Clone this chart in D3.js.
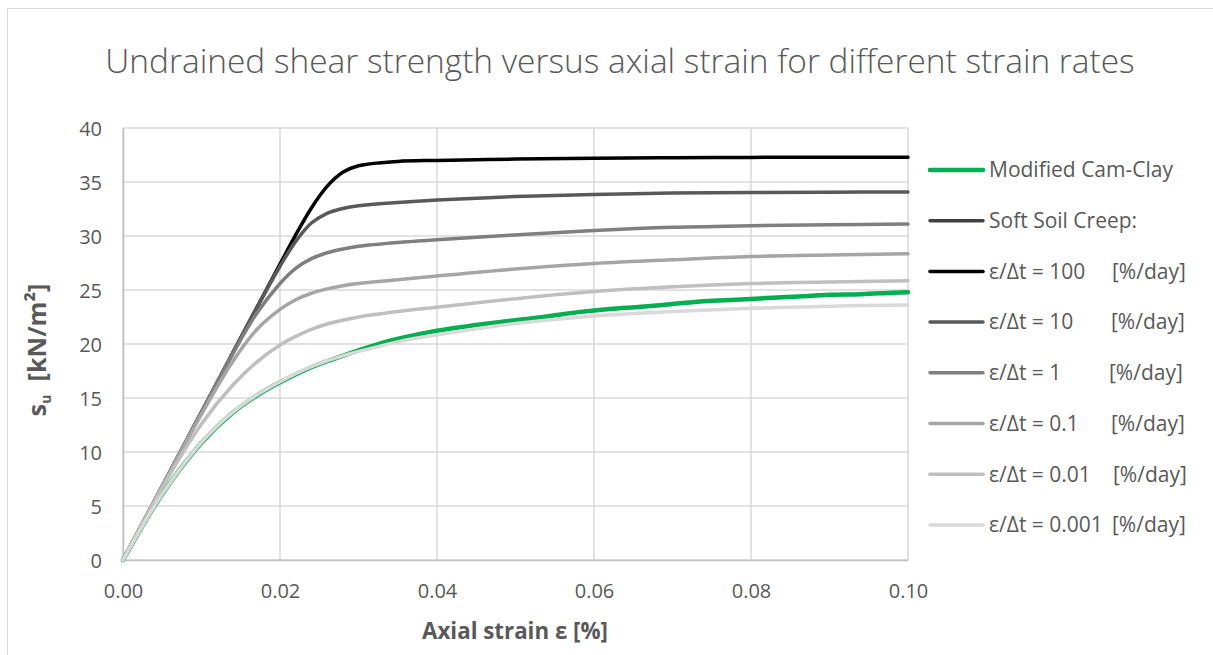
<!DOCTYPE html>
<html>
<head>
<meta charset="utf-8">
<script src="https://cdn.jsdelivr.net/npm/d3@7"></script>
<style>
  html, body { margin: 0; padding: 0; background: #ffffff; }
  svg { display: block; font-family: "Open Sans", "Noto Sans", sans-serif; }
</style>
</head>
<body>
<svg id="chart" width="1213" height="655"></svg>
<script>
// Axial strain samples [%] shared by the Soft Soil Creep runs
const strain = [0, 0.005, 0.01, 0.014, 0.017, 0.02, 0.022, 0.024, 0.026, 0.028, 0.03, 0.035, 0.04, 0.05, 0.06, 0.07, 0.08, 0.09, 0.1];

// Undrained shear strength s_u [kN/m²] for each strain rate
const rate100   = [0, 6.85, 13.7, 19.2, 23.3, 27.4, 30.1, 32.6, 34.6, 35.9, 36.5, 36.9, 37.0, 37.12, 37.2, 37.25, 37.28, 37.3, 37.3];
const rate10    = [0, 6.85, 13.7, 19.2, 23.3, 27.2, 29.5, 31.2, 32.1, 32.55, 32.8, 33.1, 33.33, 33.65, 33.85, 33.97, 34.03, 34.06, 34.07];
const rate1     = [0, 6.85, 13.7, 19.1, 22.8, 25.6, 27.0, 27.9, 28.45, 28.8, 29.05, 29.4, 29.65, 30.1, 30.5, 30.8, 30.96, 31.05, 31.1];
const rate0_1   = [0, 6.85, 13.5, 18.4, 21.3, 23.2, 24.1, 24.7, 25.1, 25.4, 25.6, 25.95, 26.3, 26.95, 27.45, 27.8, 28.1, 28.25, 28.36];
const rate0_01  = [0, 6.7, 12.6, 16.2, 18.3, 19.9, 20.7, 21.35, 21.85, 22.2, 22.5, 23.0, 23.4, 24.2, 24.85, 25.3, 25.6, 25.75, 25.86];
const rate0_001 = [0, 6.1, 10.9, 13.7, 15.25, 16.5, 17.25, 17.9, 18.45, 18.9, 19.3, 20.2, 20.85, 21.9, 22.6, 23.0, 23.3, 23.5, 23.62];

// Modified Cam-Clay run (own, denser strain sampling)
const mccStrain = [0, 0.005, 0.01, 0.014, 0.017, 0.02, 0.024, 0.028, 0.03, 0.034, 0.038, 0.042, 0.046, 0.05, 0.054, 0.058, 0.062, 0.066, 0.07, 0.074, 0.078, 0.082, 0.086, 0.09, 0.094, 0.098, 0.1];
const mccSu     = [0, 6.1, 10.85, 13.65, 15.2, 16.45, 17.85, 18.9, 19.4, 20.3, 20.95, 21.45, 21.85, 22.2, 22.55, 22.95, 23.25, 23.45, 23.7, 23.95, 24.1, 24.25, 24.4, 24.55, 24.6, 24.75, 24.8];

// Axis ticks
const xTicks = [0, 0.02, 0.04, 0.06, 0.08, 0.10];
const yTicks = [0, 5, 10, 15, 20, 25, 30, 35, 40];

// Legend entries (label parts and colours)
const legendNames = ["Modified Cam-Clay", "Soft Soil Creep:", "ε/Δt = 100", "ε/Δt = 10", "ε/Δt = 1", "ε/Δt = 0.1", "ε/Δt = 0.01", "ε/Δt = 0.001"];
const legendUnits = ["", "", "[%/day]", "[%/day]", "[%/day]", "[%/day]", "[%/day]", "[%/day]"];
const seriesColors = ["#00b050", "#404040", "#000000", "#595959", "#7f7f7f", "#a5a5a5", "#bfbfbf", "#d9d9d9"];

const svg = d3.select("#chart");

// Chart frame
svg.append("rect")
  .attr("x", 7.5).attr("y", 8.5)
  .attr("width", 1240).attr("height", 680)
  .attr("fill", "#ffffff").attr("stroke", "#d9d9d9").attr("stroke-width", 1);

const plot = { left: 123, right: 908, top: 128, bottom: 560 };
const x = d3.scaleLinear().domain([0, 0.1]).range([plot.left, plot.right]);
const y = d3.scaleLinear().domain([0, 40]).range([plot.bottom, plot.top]);

const textColor = "#595959";

// Fit a text element to a given width by adjusting its font size
function fitWidth(sel, width) {
  const node = sel.node();
  const fs = parseFloat(sel.attr("font-size"));
  const w = node.getComputedTextLength();
  const size = fs * width / w;
  sel.attr("font-size", size.toFixed(2));
  return size;
}

// Gridlines
const grid = svg.append("g");
grid.selectAll("line.h").data(yTicks).join("line")
  .attr("x1", plot.left).attr("x2", plot.right)
  .attr("y1", d => y(d)).attr("y2", d => y(d))
  .attr("stroke", "#d9d9d9").attr("stroke-width", 1.5);
grid.selectAll("line.v").data(xTicks).join("line")
  .attr("y1", plot.top).attr("y2", plot.bottom)
  .attr("x1", d => x(d)).attr("x2", d => x(d))
  .attr("stroke", "#d9d9d9").attr("stroke-width", 1.5);

// Axes (labels only, lines are drawn by the grid)
const xAxis = svg.append("g")
  .attr("transform", `translate(0,${plot.bottom})`)
  .call(d3.axisBottom(x).tickValues(xTicks).tickFormat(d3.format(".2f")).tickSize(0).tickPadding(0));
xAxis.select(".domain").attr("stroke", "#bfbfbf").attr("stroke-width", 1.5);
xAxis.selectAll("text")
  .attr("y", 38).attr("dy", null)
  .attr("fill", textColor).attr("font-size", 20)
  .attr("font-family", "'Open Sans', sans-serif");

const yAxis = svg.append("g")
  .attr("transform", `translate(${plot.left},0)`)
  .call(d3.axisLeft(y).tickValues(yTicks).tickFormat(d3.format("d")).tickSize(0).tickPadding(0));
yAxis.select(".domain").attr("stroke", "#bfbfbf").attr("stroke-width", 1.5);
yAxis.selectAll("text")
  .attr("x", -21).attr("dy", "0.35em")
  .attr("fill", textColor).attr("font-size", 20)
  .attr("font-family", "'Open Sans', sans-serif");

// Curves
const line = d3.line()
  .x(d => x(d[0])).y(d => y(d[1]))
  .curve(d3.curveCatmullRom.alpha(0.5));

const series = [
  { pts: d3.zip(mccStrain, mccSu), color: seriesColors[0], w: 4.5 },
  { pts: d3.zip(strain, rate100), color: seriesColors[2], w: 3.5 },
  { pts: d3.zip(strain, rate10), color: seriesColors[3], w: 3.5 },
  { pts: d3.zip(strain, rate1), color: seriesColors[4], w: 3.5 },
  { pts: d3.zip(strain, rate0_1), color: seriesColors[5], w: 3.5 },
  { pts: d3.zip(strain, rate0_01), color: seriesColors[6], w: 3.5 },
  { pts: d3.zip(strain, rate0_001), color: seriesColors[7], w: 3.5 }
];

svg.append("g").selectAll("path").data(series).join("path")
  .attr("d", d => line(d.pts))
  .attr("fill", "none")
  .attr("stroke", d => d.color)
  .attr("stroke-width", d => d.w)
  .attr("stroke-linejoin", "round")
  .attr("stroke-linecap", "round");

// Title
const title = svg.append("text")
  .attr("x", 620).attr("y", 73)
  .attr("text-anchor", "middle")
  .attr("fill", textColor)
  .attr("font-size", 28)
  .attr("font-weight", 300)
  .text("Undrained shear strength versus axial strain for different strain rates");
fitWidth(title, 1030);

// Axis titles
const xTitle = svg.append("text")
  .attr("x", 515).attr("y", 639)
  .attr("text-anchor", "middle")
  .attr("fill", textColor)
  .attr("font-size", 19)
  .attr("font-weight", 700)
  .text("Axial strain ε [%]");
fitWidth(xTitle, 186);

const yTitle = svg.append("text")
  .attr("transform", "translate(46,350) rotate(-90)")
  .attr("text-anchor", "middle")
  .attr("fill", textColor)
  .attr("font-size", 19)
  .attr("font-weight", 700);
yTitle.append("tspan").text("s");
yTitle.append("tspan").attr("font-size", 14).attr("dy", 5).text("u");
yTitle.append("tspan").attr("dy", -5).text("\u00a0 [kN/m²]");
fitWidth(yTitle, 136);

// Legend
const legendX = 930, legendY0 = 170, legendStep = 50.7;
const unitX = [0, 0, 1112, 1111, 1109, 1111, 1113, 1112];
const legend = svg.append("g");
let legendSize = 19;
legendNames.forEach((name, i) => {
  const yy = legendY0 + i * legendStep;
  legend.append("line")
    .attr("x1", legendX).attr("x2", legendX + 53)
    .attr("y1", yy).attr("y2", yy)
    .attr("stroke", seriesColors[i])
    .attr("stroke-width", i === 0 ? 4.5 : 3.5)
    .attr("stroke-linecap", "round");
  const t = legend.append("text")
    .attr("x", legendX + 59).attr("y", yy)
    .attr("dy", "0.35em")
    .attr("fill", textColor)
    .attr("font-size", legendSize);
  t.append("tspan").text(name);
  if (i === 0) legendSize = fitWidth(t, 184);
  if (legendUnits[i]) {
    t.append("tspan").attr("x", unitX[i]).text(legendUnits[i]);
  }
});
</script>
</body>
</html>
